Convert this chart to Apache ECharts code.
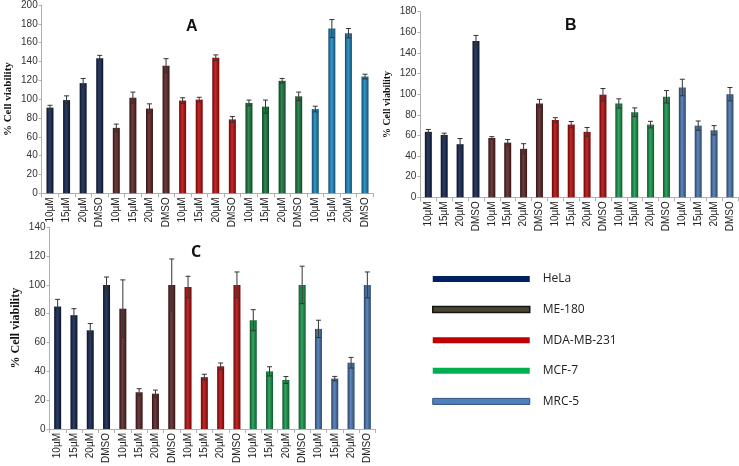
<!DOCTYPE html>
<html>
<head>
<meta charset="utf-8">
<script src="https://cdn.jsdelivr.net/npm/echarts@6/dist/echarts.min.js"></script>
<style>
html,body{margin:0;padding:0;background:#fff;}
#main{width:739px;height:466px;}
</style>
</head>
<body>
<div id="main"></div>
<script>
// ---- data ----
const cellLines = ['HeLa', 'ME-180', 'MDA-MB-231', 'MCF-7', 'MRC-5'];
const doses = ['10µM', '15µM', '20µM', 'DMSO'];
const panelTitles = ['A', 'B', 'C'];
const yMaxA = 200, yMaxB = 180, yMaxC = 140;

// Panel A values (% cell viability) and error (SD)
const aHeLa = [91, 99, 117, 143.5];      const aHeLaErr = [2.5, 4.5, 5, 3];
const aME180 = [69.5, 101.5, 90, 135.5]; const aME180Err = [4, 6, 5, 7.5];
const aMDA = [98.5, 99.5, 144, 78.5];    const aMDAErr = [3, 2.5, 3, 3];
const aMCF7 = [96, 92, 119.5, 103];      const aMCF7Err = [3, 7, 2.5, 4.5];
const aMRC5 = [89.5, 175, 170, 124];     const aMRC5Err = [3, 9.5, 5, 2.5];

// Panel B
const bHeLa = [63.5, 60.5, 51.5, 151.5]; const bHeLaErr = [2.3, 1.7, 5.5, 5.5];
const bME180 = [57.5, 53, 47, 91];       const bME180Err = [1.3, 3, 5, 4];
const bMDA = [75, 70.5, 63.5, 99.5];     const bMDAErr = [2.2, 3, 4.2, 6];
const bMCF7 = [91, 82.5, 70.5, 97.5];    const bMCF7Err = [4.5, 4.2, 3.2, 6];
const bMRC5 = [106.5, 69.5, 65, 100];    const bMRC5Err = [8, 4.5, 4.5, 6.5];

// Panel C
const cHeLa = [85, 79, 68.5, 100];       const cHeLaErr = [5, 4.5, 4.7, 5.5];
const cME180 = [83.5, 25.5, 24.5, 100];  const cME180Err = [20, 2.5, 2.5, 18];
const cMDA = [98.5, 36, 43.5, 100];      const cMDAErr = [7.5, 2, 2.3, 9];
const cMCF7 = [75.5, 40, 34, 100];       const cMCF7Err = [7.3, 3.2, 2.4, 13];
const cMRC5 = [69.5, 35, 46, 100];       const cMRC5Err = [6, 1.5, 3.7, 9];

// ---- build ----
const panels = [
  {vals:[aHeLa,aME180,aMDA,aMCF7,aMRC5], errs:[aHeLaErr,aME180Err,aMDAErr,aMCF7Err,aMRC5Err], max:yMaxA,
   colors:['#10244f','#5e2323','#c20b0b','#167a3d','#1c88c2']},
  {vals:[bHeLa,bME180,bMDA,bMCF7,bMRC5], errs:[bHeLaErr,bME180Err,bMDAErr,bMCF7Err,bMRC5Err], max:yMaxB,
   colors:['#10244f','#5a2424','#ba0c0c','#169a4a','#4a78b3']},
  {vals:[cHeLa,cME180,cMDA,cMCF7,cMRC5], errs:[cHeLaErr,cME180Err,cMDAErr,cMCF7Err,cMRC5Err], max:yMaxC,
   colors:['#10244f','#5a2424','#ba0c0c','#169a4a','#4a78b3']}
];
const categories = [];
cellLines.forEach(c => doses.forEach(d => categories.push(c + '|' + d)));

function shade(hex, f) {
  const n = parseInt(hex.slice(1), 16);
  let r = (n >> 16) & 255, g = (n >> 8) & 255, b = n & 255;
  const m = v => Math.max(0, Math.min(255, Math.round(f < 0 ? v * (1 + f) : v + (255 - v) * f)));
  return 'rgb(' + m(r) + ',' + m(g) + ',' + m(b) + ')';
}
function grad(hex) {
  return new echarts.graphic.LinearGradient(0, 0, 1, 0, [
    {offset: 0, color: shade(hex, -0.45)},
    {offset: 0.45, color: shade(hex, 0.12)},
    {offset: 1, color: shade(hex, -0.4)}
  ]);
}

const grids = [
  {left: 41.7, width: 331.6, top: 3, height: 190.3},
  {left: 420.4, width: 317.5, top: 11.7, height: 185.6},
  {left: 49.5, width: 326, top: 227.3, height: 208.4}
];
const nameSizes = [11, 10, 12];

const xAxes = [], yAxes = [], series = [];
panels.forEach((p, pi) => {
  xAxes.push({
    type: 'category', gridIndex: pi, data: categories,
    axisLine: {lineStyle: {color: '#b0b0b0'}},
    axisTick: {show: true, alignWithLabel: false, length: 4, lineStyle: {color: '#b0b0b0'}},
    axisLabel: {rotate: 90, interval: 0, fontSize: 10, color: '#222', margin: 4,
      fontFamily: 'Liberation Sans', formatter: v => v.split('|')[1]}
  });
  yAxes.push({
    type: 'value', gridIndex: pi, min: 0, max: p.max, interval: 20,
    splitLine: {show: false},
    axisLine: {show: true, lineStyle: {color: '#b0b0b0'}},
    axisTick: {show: true, length: 3, lineStyle: {color: '#b0b0b0'}},
    axisLabel: {fontSize: 10, color: '#333', margin: 4, fontFamily: 'Liberation Sans'},
    name: '% Cell viability', nameLocation: 'middle', nameGap: 28,
    nameTextStyle: {fontFamily: 'Liberation Serif', fontWeight: 'bold', fontSize: nameSizes[pi], color: '#111'}
  });
  const errData = [];
  cellLines.forEach((cl, ci) => {
    const data = categories.map(() => '-');
    p.vals[ci].forEach((v, di) => {
      data[ci * 4 + di] = v;
      errData.push([ci * 4 + di, v, p.errs[ci][di]]);
    });
    series.push({
      type: 'bar', name: cl, xAxisIndex: pi, yAxisIndex: pi, stack: 'p' + pi,
      barWidth: 7, data: data,
      itemStyle: {color: grad(p.colors[ci])},
      emphasis: {disabled: true}
    });
  });
  series.push({
    type: 'custom', xAxisIndex: pi, yAxisIndex: pi, data: errData, z: 10, silent: true,
    encode: {x: 0, y: 1},
    renderItem: function (params, api) {
      const x = api.value(0), v = api.value(1), e = api.value(2);
      const t = api.coord([x, v + e]);
      const b = api.coord([x, v - e]);
      const cw = 2.5;
      const st = {stroke: '#333', lineWidth: 1};
      return {type: 'group', children: [
        {type: 'line', shape: {x1: t[0], y1: t[1], x2: b[0], y2: b[1]}, style: st},
        {type: 'line', shape: {x1: t[0] - cw, y1: t[1], x2: t[0] + cw, y2: t[1]}, style: st},
        {type: 'line', shape: {x1: b[0] - cw, y1: b[1], x2: b[0] + cw, y2: b[1]}, style: st}
      ]};
    }
  });
});

const option = {
  backgroundColor: '#fff',
  animation: false,
  title: [
    {text: panelTitles[0], left: 181, top: 14, textStyle: {fontSize: 16, fontWeight: 'bold', fontFamily: 'Liberation Sans', color: '#111'}},
    {text: panelTitles[1], left: 560, top: 13, textStyle: {fontSize: 16, fontWeight: 'bold', fontFamily: 'Liberation Sans', color: '#111'}},
    {text: panelTitles[2], left: 186, top: 239, textStyle: {fontSize: 16, fontWeight: 'bold', fontFamily: 'Open Sans', color: '#111'}}
  ],
  grid: grids,
  xAxis: xAxes,
  yAxis: yAxes,
  legend: {
    orient: 'vertical', left: 427, top: 268, itemWidth: 97, itemHeight: 6, itemGap: 18.6,
    selectedMode: false, icon: 'rect',
    textStyle: {fontSize: 12, fontFamily: 'Open Sans', color: '#222', padding: [0, 0, 0, 8]},
    data: [
      {name: 'HeLa', itemStyle: {color: '#002060'}},
      {name: 'ME-180', itemStyle: {color: '#4a4630', borderColor: '#151515', borderWidth: 1.5}},
      {name: 'MDA-MB-231', itemStyle: {color: '#c00000'}},
      {name: 'MCF-7', itemStyle: {color: '#00b050'}},
      {name: 'MRC-5', itemStyle: {color: '#4f81bd', borderColor: '#2c5282', borderWidth: 1}}
    ]
  },
  series: series
};
const chart = echarts.init(document.getElementById('main'), null, {renderer: 'canvas'});
chart.setOption(option);
</script>
</body>
</html>
